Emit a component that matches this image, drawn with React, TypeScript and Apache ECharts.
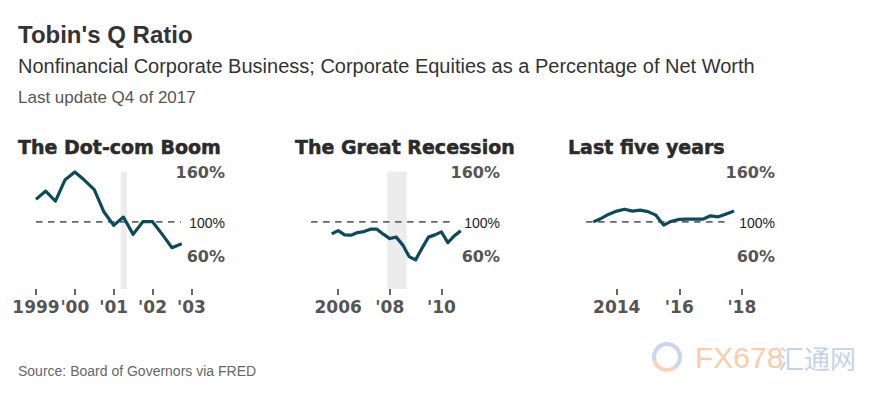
import React, { useEffect, useRef } from 'react';
import * as echarts from 'echarts';

// ---------- data ----------
const dotcomDates = [1999, 1999.25, 1999.5, 1999.75, 2000, 2000.25, 2000.5, 2000.75, 2001, 2001.25, 2001.5, 2001.75, 2002, 2002.25, 2002.5, 2002.75];
const dotcomValues = [126.8, 136.7, 124.8, 150.3, 159.4, 149.5, 138.4, 111.7, 95.8, 105.7, 85.1, 100.2, 100.2, 85.1, 69.2, 74.0];

const recessionDates = [2005.75, 2006, 2006.25, 2006.5, 2006.75, 2007, 2007.25, 2007.5, 2007.75, 2008, 2008.25, 2008.5, 2008.75, 2009, 2009.25, 2009.5, 2009.75, 2010, 2010.25, 2010.5, 2010.75];
const recessionValues = [85.7, 89.6, 84.5, 84.1, 87.2, 88.4, 91.3, 91.3, 85.3, 80.1, 81.8, 72.6, 58.6, 54.7, 68.7, 81.8, 84.5, 88.1, 75.3, 83.3, 89.3];

const recentDates = [2013.25, 2013.5, 2013.75, 2014, 2014.25, 2014.5, 2014.75, 2015, 2015.25, 2015.5, 2015.75, 2016, 2016.25, 2016.5, 2016.75, 2017, 2017.25, 2017.5, 2017.75];
const recentValues = [100, 104.1, 109.2, 112.8, 115.1, 112.8, 113.9, 112.2, 108, 96.1, 100.8, 103, 103.2, 103.2, 103.2, 107.2, 106, 109.5, 112.8];

const dotcomTicks = [1999, 2000, 2001, 2002, 2003];
const dotcomTickLabels = ['1999', "'00", "'01", "'02", "'03"];
const recessionTicks = [2006, 2008, 2010];
const recessionTickLabels = ['2006', "'08", "'10"];
const recentTicks = [2014, 2016, 2018];
const recentTickLabels = ['2014', "'16", "'18"];

const yTickValues = [60, 100, 160];
const referenceValue = 100;

const dotcomRecession = [2001.18, 2001.34];
const greatRecession = [2007.9, 2008.66];

const panelTitles = ['The Dot-com Boom', 'The Great Recession', 'Last five years'];

// ---------- layout ----------
const panels = [
  { dates: dotcomDates, values: dotcomValues, ticks: dotcomTicks, tickLabels: dotcomTickLabels, band: dotcomRecession,
    xMin: 1999, xMax: 2003, left: 36, width: 155.4, labelRight: 225, ref: [1999, 2002.73], titleX: 18 },
  { dates: recessionDates, values: recessionValues, ticks: recessionTicks, tickLabels: recessionTickLabels, band: greatRecession,
    xMin: 2004.9, xMax: 2011, left: 309.8, width: 157.4, labelRight: 500, ref: [2004.95, 2010.53], titleX: 295 },
  { dates: recentDates, values: recentValues, ticks: recentTicks, tickLabels: recentTickLabels, band: null as number[] | null,
    xMin: 2013, xMax: 2018.2, left: 585.5, width: 162.6, labelRight: 775, ref: [2013.02, 2017.56], titleX: 568 },
];

const GRID_TOP = 171.5;
const GRID_H = 117.5;
const SANS = '"Liberation Sans", Arial, sans-serif';
const BOLD = '"DejaVu Sans", sans-serif';

export default function App() {
  const ref = useRef<HTMLDivElement>(null);
  useEffect(() => {
    const chart = echarts.init(ref.current!, null, { renderer: 'svg', width: 875, height: 393 });

    const grid: any[] = [];
    const xAxis: any[] = [];
    const yAxis: any[] = [];
    const series: any[] = [];
    const graphic: any[] = [];

    panels.forEach((p, i) => {
      grid.push({ left: p.left, top: GRID_TOP, width: p.width, height: GRID_H, containLabel: false });
      xAxis.push({
        type: 'value', gridIndex: i, min: p.xMin, max: p.xMax,
        axisLine: { show: false }, splitLine: { show: false },
        axisTick: { show: true, customValues: p.ticks, length: 6, lineStyle: { color: '#333', width: 1.5 } },
        axisLabel: {
          customValues: p.ticks, margin: 9,
          formatter: (v: number) => { const k = p.ticks.indexOf(Math.round(v)); return k >= 0 ? p.tickLabels[k] : ''; },
          color: '#555', fontFamily: BOLD, fontWeight: 'bold', fontSize: 17,
        },
      });
      yAxis.push({
        type: 'value', gridIndex: i, min: 20, max: 160, position: 'left', offset: p.left - p.labelRight,
        axisLine: { show: false }, axisTick: { show: false }, splitLine: { show: false },
        axisLabel: {
          customValues: yTickValues, margin: 0, align: 'right',
          formatter: (v: number) => (v === referenceValue ? `{n|${v}%}` : `{b|${v}%}`),
          rich: {
            n: { fontFamily: SANS, fontSize: 14, color: '#222', fontWeight: 'normal', padding: [2, 0, 0, 0] },
            b: { fontFamily: BOLD, fontSize: 16, color: '#555', fontWeight: 'bold', padding: [2, 0, 0, 0] },
          },
        },
      });
      series.push({
        type: 'line', xAxisIndex: i, yAxisIndex: i, silent: true, symbol: 'none', clip: false,
        data: [[p.ref[0], referenceValue], [p.ref[1], referenceValue]],
        lineStyle: { color: '#666', width: 1.6, type: [6.5, 5.5] },
        markArea: p.band ? {
          silent: true, itemStyle: { color: '#ececec' },
          data: [[{ xAxis: p.band[0] }, { xAxis: p.band[1] }]],
        } : undefined,
        z: 1,
      });
      series.push({
        type: 'line', xAxisIndex: i, yAxisIndex: i, silent: true, symbol: 'none', showSymbol: false, clip: false,
        data: p.dates.map((d, k) => [d, p.values[k]]),
        lineStyle: { color: '#0c4a5c', width: 3.2, join: 'round' },
        z: 3,
      });
      graphic.push({
        type: 'text', x: p.titleX, y: 147,
        style: { text: panelTitles[i], font: `bold 19px ${BOLD}`, fill: '#2b2b2b', stroke: '#2b2b2b', lineWidth: 0.5, verticalAlign: 'middle' },
      });
    });

    graphic.push(
      { type: 'text', x: 18, y: 34, style: { text: "Tobin's Q Ratio", font: `bold 24px ${SANS}`, fill: '#333', verticalAlign: 'middle' } },
      { type: 'text', x: 18, y: 66, style: { text: 'Nonfinancial Corporate Business; Corporate Equities as a Percentage of Net Worth', font: `20px ${SANS}`, fill: '#333', verticalAlign: 'middle' } },
      { type: 'text', x: 18, y: 97, style: { text: 'Last update Q4 of 2017', font: `17px ${SANS}`, fill: '#555', verticalAlign: 'middle' } },
      { type: 'text', x: 18, y: 371, style: { text: 'Source: Board of Governors via FRED', font: `14px ${SANS}`, fill: '#666', verticalAlign: 'middle' } },
      // watermark
      { type: 'arc', shape: { cx: 667, cy: 357, r: 13, startAngle: Math.PI * 0.9, endAngle: Math.PI * 2.3 }, style: { stroke: '#c9d6ec', lineWidth: 4, fill: 'none' }, silent: true },
      { type: 'arc', shape: { cx: 667, cy: 357, r: 13, startAngle: Math.PI * 0.3, endAngle: Math.PI * 0.9 }, style: { stroke: '#f8d3b8', lineWidth: 4, fill: 'none' }, silent: true },
      { type: 'text', x: 695, y: 357, style: { text: 'FX678', font: `30px "Liberation Sans Narrow", ${SANS}`, fill: '#f9cdaa', verticalAlign: 'middle' }, silent: true },
      { type: 'text', x: 778, y: 357, style: { text: '汇通网', font: `26px "Noto Sans CJK SC", sans-serif`, fill: '#c3d3ea', verticalAlign: 'middle' }, silent: true },
    );

    chart.setOption({ animation: false, backgroundColor: '#fff', grid, xAxis, yAxis, series, graphic });
    return () => chart.dispose();
  }, []);
  return <div ref={ref} style={{ position: 'fixed', left: 0, top: 0, width: 875, height: 393, background: '#fff' }} />;
}
